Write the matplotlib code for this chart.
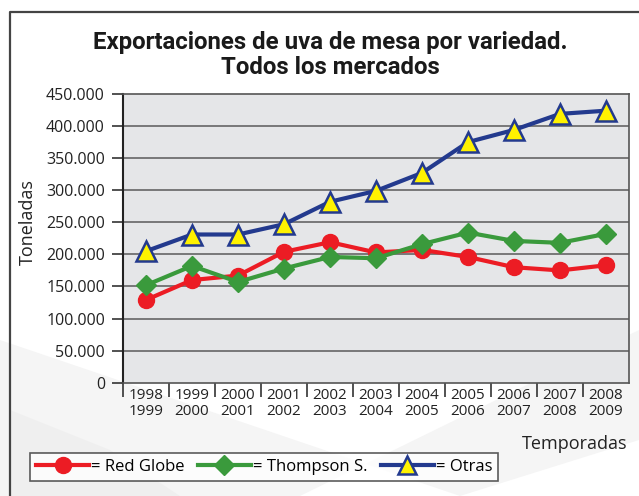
import matplotlib
matplotlib.use("Agg")
import matplotlib.pyplot as plt
from matplotlib.ticker import FuncFormatter, FixedLocator
from matplotlib.lines import Line2D
from matplotlib.patches import Polygon

plt.rcParams['font.family'] = ['Open Sans', 'DejaVu Sans']

temporadas = ["1998\n1999", "1999\n2000", "2000\n2001", "2001\n2002", "2002\n2003",
              "2003\n2004", "2004\n2005", "2005\n2006", "2006\n2007", "2007\n2008", "2008\n2009"]
red_globe = [129000, 160000, 167000, 204000, 219000, 203000, 207000, 196000, 180000, 175000, 183000]
thompson = [152000, 182000, 157000, 178000, 196000, 194000, 216000, 234000, 221000, 218000, 232000]
otras = [205000, 231000, 231000, 247000, 282000, 299000, 327000, 375000, 394000, 419000, 424000]
yticks = [0, 50000, 100000, 150000, 200000, 250000, 300000, 350000, 400000, 450000]

W, H = 639, 496
fig = plt.figure(figsize=(W / 100, H / 100), dpi=100)
fig.patch.set_facecolor('white')

# decorative background swoosh
bg = fig.add_axes([0, 0, 1, 1], zorder=-10)
bg.set_xlim(0, W); bg.set_ylim(H, 0); bg.axis('off')
bg.add_patch(Polygon([[0, 340], [0, 496], [300, 496], [639, 330], [639, 440], [460, 496]],
                     closed=True, facecolor='#f5f5f5', edgecolor='none'))
bg.add_patch(Polygon([[10, 410], [10, 496], [180, 496], [110, 450]],
                     closed=True, facecolor='#efefef', edgecolor='none'))
# outer frame (left and top)
bg.plot([9.5, 9.5, W + 5], [H + 5, 12, 12], color='#444444', lw=1.6, solid_capstyle='butt')

x0, x1 = 123, 629
ytop, ybot = 94, 382.7
ax = fig.add_axes([x0 / W, 1 - ybot / H, (x1 - x0) / W, (ybot - ytop) / H])
ax.set_facecolor('#e5e6e8')
x = list(range(len(temporadas)))

for v in yticks[1:-1]:
    ax.axhline(v, color='#5a5a5a', lw=1.1, zorder=1)

ax.plot(x, red_globe, color='#ec1c24', lw=3, marker='o', markersize=11.5,
        markerfacecolor='#ec1c24', markeredgecolor='#ec1c24', zorder=3)
ax.plot(x, thompson, color='#3a9a3c', lw=3, marker='D', markersize=10.5,
        markerfacecolor='#3a9a3c', markeredgecolor='#3a9a3c', zorder=4)
ax.plot(x, otras, color='#233a8e', lw=3, marker='^', markersize=14,
        markerfacecolor='#fff200', markeredgecolor='#233a8e', markeredgewidth=1.8, zorder=5)

ax.set_xlim(-0.5, len(temporadas) - 0.5)
ax.set_ylim(0, 450000)
ax.set_yticks(yticks)
ax.yaxis.set_major_formatter(FuncFormatter(lambda v, p: f"{int(v):,}".replace(',', '.')))
ax.set_xticks(x)
ax.set_xticklabels(temporadas, fontsize=11, linespacing=1.1)
ax.xaxis.set_minor_locator(FixedLocator([i + 0.5 for i in range(len(temporadas) - 1)] + [-0.5]))
ax.tick_params(axis='x', which='major', length=0, pad=4, colors='#222222')
ax.tick_params(axis='x', which='minor', length=10, width=1.2, color='#333333')
ax.tick_params(axis='y', length=8, width=1.2, color='#333333', labelsize=11.5, pad=5,
               labelcolor='#222222')
for s in ['top', 'right', 'bottom']:
    ax.spines[s].set_color('#555555'); ax.spines[s].set_linewidth(1.2)
ax.spines['left'].set_color('#222222'); ax.spines['left'].set_linewidth(1.5)

fig.text(28 / W, 1 - 222 / H, 'Toneladas', rotation=90, ha='center', va='center',
         fontsize=13, color='#222222')
fig.text(627 / W, 1 - 444 / H, 'Temporadas', ha='right', va='center',
         fontsize=13, color='#222222')

title_font = dict(fontsize=17.3, fontweight='bold', family=['Roboto', 'DejaVu Sans'], color='#1a1a1a')
fig.text(330 / W, 1 - 42 / H, 'Exportaciones de uva de mesa por variedad.', ha='center',
         va='center', **title_font)
fig.text(330 / W, 1 - 68 / H, 'Todos los mercados', ha='center', va='center', **title_font)

handles = [
    Line2D([], [], color='#ec1c24', lw=3, marker='o', markersize=11.5, markeredgecolor='#ec1c24'),
    Line2D([], [], color='#3a9a3c', lw=3, marker='D', markersize=10.5, markeredgecolor='#3a9a3c'),
    Line2D([], [], color='#233a8e', lw=3, marker='^', markersize=13,
           markerfacecolor='#fff200', markeredgecolor='#233a8e', markeredgewidth=1.8),
]
leg = fig.legend(handles, ['= Red Globe', '= Thompson S.', '= Otras'], ncol=3,
                 loc='center left', bbox_to_anchor=(30 / W, 1 - 467 / H),
                 frameon=True, fancybox=False, fontsize=12, handlelength=3.2,
                 handletextpad=0.1, columnspacing=0.8, borderpad=0.35, borderaxespad=0)
leg.get_frame().set_edgecolor('#333333')
leg.get_frame().set_linewidth(1.2)

fig.savefig('out.png', dpi=100)
